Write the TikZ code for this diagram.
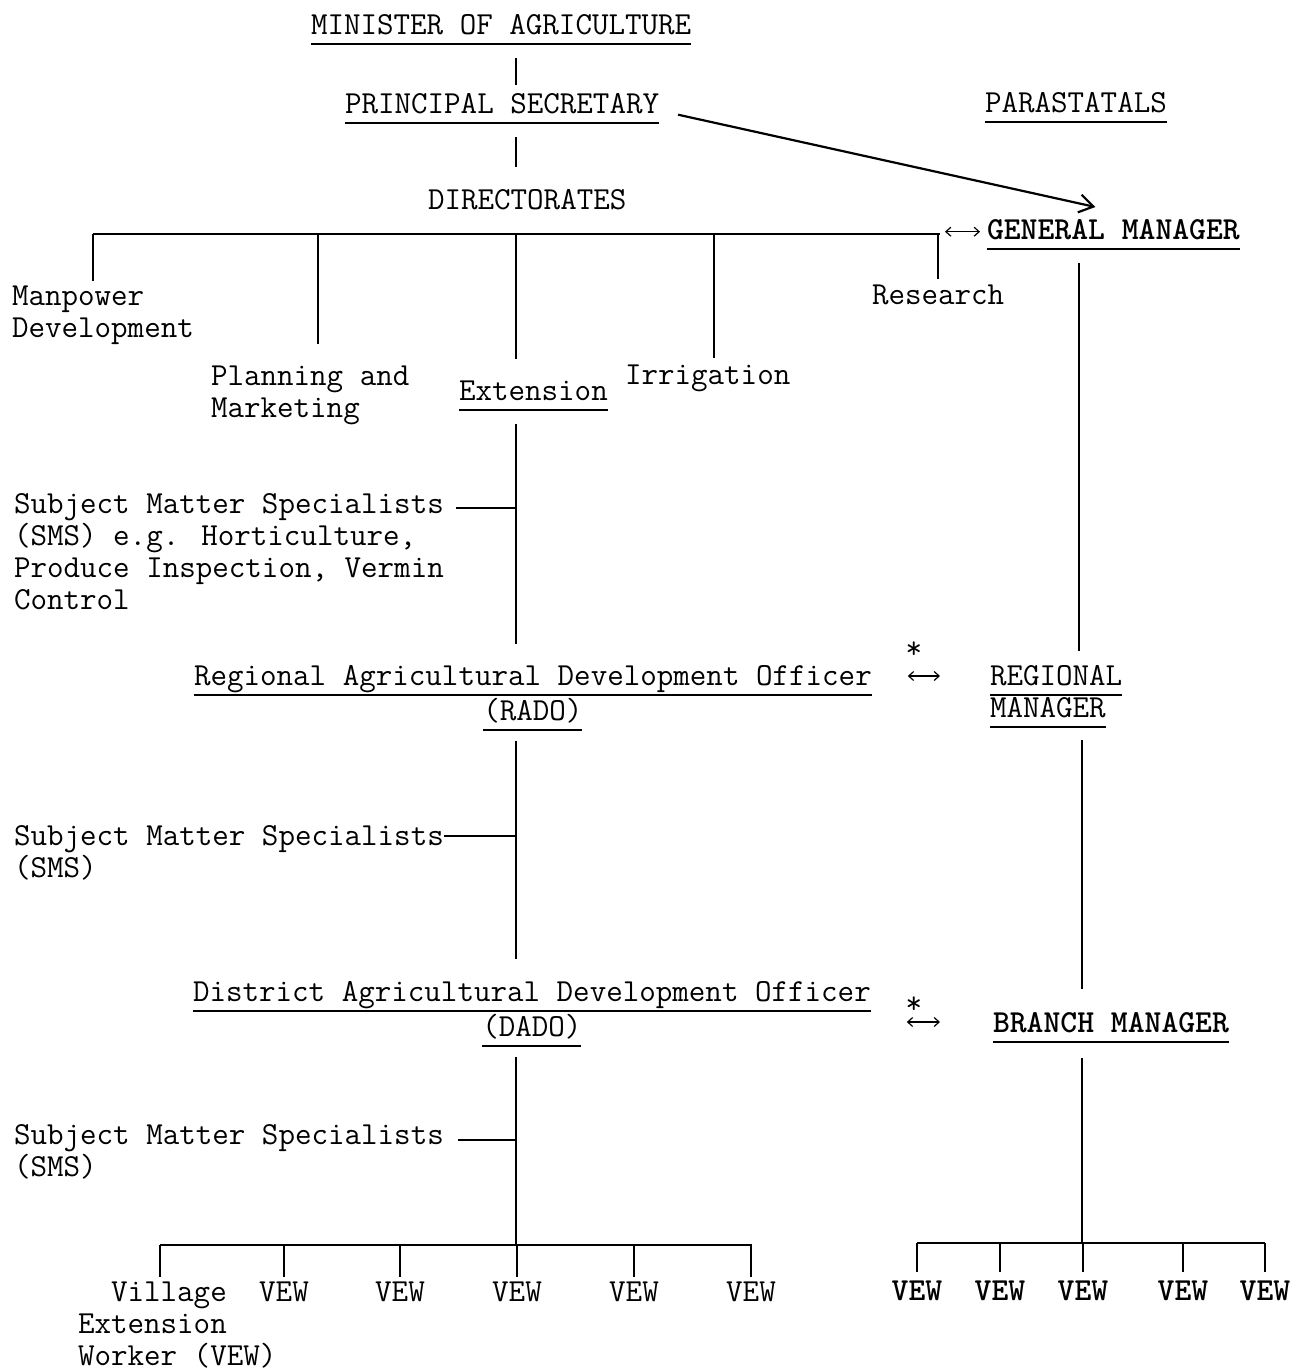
\documentclass[tikz,border=0pt]{standalone}
\usetikzlibrary{arrows.meta,calc}
\newbox\ulbox
\newbox\wbox
\newcommand\myul[1]{\setbox\ulbox\hbox{#1}\dp\ulbox=0pt\vtop{\box\ulbox\kern4.5pt\hrule height 0.9pt}}
\newcommand\twoc[2]{\setbox\wbox\hbox{#1}\vtop{\copy\wbox\hbox to\wd\wbox{\hss#2\hss}}}
\begin{document}
\begin{tikzpicture}[x=0.5pt,y=-0.5pt,
  every node/.style={font=\ttfamily\fontsize{16.05pt}{16pt}\selectfont, inner sep=0pt, outer sep=0pt},
  txt/.style={anchor=base west},
  ctr/.style={anchor=base},
  bld/.style={font=\ttfamily\bfseries\fontsize{16.05pt}{16pt}\selectfont},
  conn/.style={line width=1.15pt},
  rel/.style={line width=0.6pt, {Straight Barb[length=2.5pt,width=4.5pt]}-{Straight Barb[length=2.5pt,width=4.5pt]}},
  link/.style={line width=1.1pt, -{Straight Barb[length=7pt,width=9pt]}}]
\path[use as bounding box] (0,0) rectangle (1300,1372);

% ---------- nodes ----------
\node[txt] (min) at (311,34) {\myul{MINISTER OF AGRICULTURE}};
\node[txt] (ps) at (345,113) {\myul{PRINCIPAL SECRETARY}};
\node[txt] (dir) at (428,209) {DIRECTORATES};
\node[txt] (par) at (985,112) {\myul{PARASTATALS}};
\node[txt,bld] (gm) at (987,239) {\myul{GENERAL MANAGER}};
\node[txt] (mp) at (12,305) {\vtop{\hbox{Manpower}\hbox{Development}}};
\node[txt] (pm) at (211,385) {\vtop{\hbox{Planning and}\hbox{Marketing}}};
\node[txt] (ext) at (459,400) {\myul{Extension}};
\node[txt] (irr) at (625,384) {Irrigation};
\node[txt] (res) at (872,304) {Research};
\node[txt] (sms1) at (14,513) {\vtop{\hbox{Subject Matter Specialists}\hbox{(SMS) e.g. Horticulture,}\hbox{Produce Inspection, Vermin}\hbox{Control}}};
\node[txt] (rado) at (194,685) {\twoc{\myul{Regional Agricultural Development Officer}}{\myul{(RADO)}}};
\node[txt] (reg) at (990,685) {\vtop{\hbox{\myul{REGIONAL}}\hbox{\myul{MANAGER}}}};
\node[txt] (sms2) at (14,845) {\vtop{\hbox{Subject Matter Specialists}\hbox{(SMS)}}};
\node[txt] (dado) at (193,1001) {\twoc{\myul{District Agricultural Development Officer}}{\myul{(DADO)}}};
\node[txt,bld] (bm) at (993,1032) {\myul{BRANCH MANAGER}};
\node[txt] (sms3) at (14,1144) {\vtop{\hbox{Subject Matter Specialists}\hbox{(SMS)}}};
\node[txt] (vil) at (78,1301) {\vtop{\hbox{\ \ Village}\hbox{Extension}\hbox{Worker (VEW)}}};
\node[ctr] (v1) at (284,1301) {VEW};
\node[ctr] (v2) at (400,1301) {VEW};
\node[ctr] (v3) at (517,1301) {VEW};
\node[ctr] (v4) at (634,1301) {VEW};
\node[ctr] (v5) at (751,1301) {VEW};
\node[ctr,bld] (w1) at (917,1300) {VEW};
\node[ctr,bld] (w2) at (1000,1300) {VEW};
\node[ctr,bld] (w3) at (1083,1300) {VEW};
\node[ctr,bld] (w4) at (1183,1300) {VEW};
\node[ctr,bld] (w5) at (1265,1300) {VEW};
\node (st1) at (914,650) {*};
\node (st2) at (914,1005) {*};

% ---------- coordinates ----------
\coordinate (sp) at (516,0);
\coordinate (rs) at (1079,0);
\coordinate (rs2) at (1082,0);
\coordinate (bL) at (93,234);
\coordinate (bR) at (940,234);
\coordinate (dP) at (318,234);
\coordinate (dE) at (516,234);
\coordinate (dI) at (714,234);
\coordinate (dR) at (938,234);
\coordinate (lbL) at (160,1245);
\coordinate (lbR) at (752,1245);
\coordinate (rbL) at (917,1243);
\coordinate (rbR) at (1265,1243);
\coordinate (s1) at ($(sms1.base east)+(0,-5)$);
\coordinate (s2) at ($(sms2.base east)+(0,-9)$);
\coordinate (s3) at ($(sms3.base east)+(0,-4)$);

% ---------- connectors ----------
\draw[conn, shorten <=6.6pt, shorten >=3.9pt] (min.south -| sp) -- (ps.north -| sp);
\draw[conn, shorten <=6.6pt, shorten >=10.9pt] (ps.south -| sp) -- (dir.north -| sp);
\draw[conn] (bL) -- (bR);
\draw[conn, shorten >=2.4pt] (bL) -- (bL |- mp.north);
\draw[conn, shorten >=10.9pt] (dP) -- (dP |- pm.north);
\draw[conn, shorten >=10.9pt] (dE) -- (dE |- ext.north);
\draw[conn, shorten >=3.4pt] (dI) -- (dI |- irr.north);
\draw[conn, shorten >=2.9pt] (dR) -- (dR |- res.north);
\draw[rel] ($(bR |- gm.mid)+(5,-3)$) -- ($(gm.mid west)+(-7,-3)$);
\draw[link] ($(ps.mid east)+(19,6)$) -- ($(gm.north)+(-18,-12)$);

\draw[conn, shorten <=6.6pt, shorten >=6.9pt] (rs |- gm.south) -- (rs |- reg.north);
\draw[conn, shorten <=6.1pt, shorten >=11.4pt] (rs2 |- reg.south) -- (rs2 |- bm.north);
\draw[conn, shorten <=7.6pt] (rs2 |- bm.south) -- (rs2 |- rbL);
\draw[conn] (rbL) -- (rbR);
\foreach \n in {w1,w2,w3,w4,w5} \draw[conn, shorten >=4.4pt] (\n |- rbL) -- (\n.north);

\draw[conn, shorten <=6.6pt, shorten >=10.4pt] (ext.south -| sp) -- (rado.north -| sp);
\draw[conn, shorten <=6pt] (s1) -- (s1 -| sp);
\draw[conn, shorten <=4.9pt, shorten >=10.9pt] (rado.south -| sp) -- (dado.north -| sp);
\draw[conn] (s2) -- (s2 -| sp);
\draw[conn, shorten <=4.9pt] (dado.south -| sp) -- (sp |- lbL);
\draw[conn, shorten <=7pt] (s3) -- (s3 -| sp);
\draw[conn] (lbL) -- (lbR);
\draw[conn, shorten >=2.4pt] (lbL) -- (lbL |- vil.north);
\foreach \n in {v1,v2,v3,v4,v5} \draw[conn, shorten >=2.4pt] (\n |- lbL) -- (\n.north);

\draw[rel] ($(rado.base east)+(36,-9)$) -- ($(reg.base west)+(-50,-9)$);
\draw[rel] ($(dado.base east)+(36,21)$) -- ($(bm.base west)+(-53,-10)$);
\end{tikzpicture}
\end{document}
